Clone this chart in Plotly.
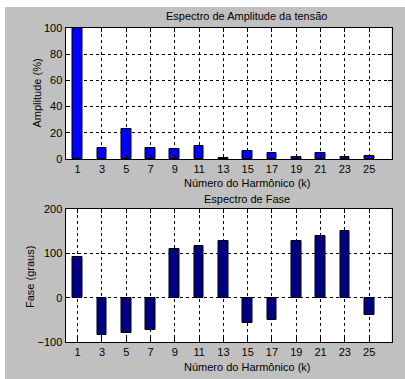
import plotly.graph_objects as go

harmonics = [1, 3, 5, 7, 9, 11, 13, 15, 17, 19, 21, 23, 25]
amplitude = [100, 8.4, 23.2, 8.4, 7.6, 10.2, 1.0, 6.4, 4.6, 1.5, 4.6, 1.5, 2.3]
phase = [92.5, -84, -79, -74, 110.5, 116, 128.6, -57, -50, 127, 140, 151, -39]
amp_ticks = [0, 20, 40, 60, 80, 100]
phase_ticks = [-100, 0, 100, 200]

W, H = 405, 379
FONT = "Liberation Sans, Arial, sans-serif"

def px_x(p):
    return p / W

def px_y(p):
    return 1 - p / H

fig = go.Figure()
fig.add_trace(go.Bar(x=harmonics, y=amplitude, width=0.8, marker=dict(color="#0000ff", line=dict(color="#000000", width=1)),
                     xaxis="x", yaxis="y"))
fig.add_trace(go.Bar(x=harmonics, y=phase, width=0.8, marker=dict(color="#000080", line=dict(color="#000000", width=1)),
                     xaxis="x2", yaxis="y2"))

axis_common = dict(
    showline=True, linecolor="#000000", linewidth=1, mirror="allticks",
    ticks="inside", ticklen=4, tickcolor="#000000",
    showgrid=True, gridcolor="#000000", gridwidth=1, griddash="3px,3px",
    zeroline=False, tickfont=dict(family=FONT, size=11, color="#000000"),
    automargin=False, fixedrange=True,
)

xdom = [px_x(65.5), px_x(391.5)]
fig.update_layout(
    width=W, height=H,
    margin=dict(l=0, r=0, t=0, b=0),
    paper_bgcolor="#c0c0c0", plot_bgcolor="#ffffff",
    showlegend=False, bargap=0,
    font=dict(family=FONT, size=11, color="#000000"),
    xaxis=dict(domain=xdom, range=[0, 26.84], tickvals=harmonics, anchor="y", **axis_common),
    yaxis=dict(domain=[px_y(159), px_y(28)], range=[0, 100], tickvals=amp_ticks, anchor="x", **axis_common),
    xaxis2=dict(domain=xdom, range=[0, 26.84], tickvals=harmonics, anchor="y2", **axis_common),
    yaxis2=dict(domain=[px_y(342), px_y(209)], range=[-100, 200], tickvals=phase_ticks, anchor="x2", **axis_common),
    shapes=[
        dict(type="rect", xref="paper", yref="paper", x0=0, x1=1, y0=px_y(7), y1=1,
             fillcolor="#ffffff", line=dict(width=0), layer="below"),
        dict(type="rect", xref="paper", yref="paper", x0=0, x1=px_x(5), y0=0, y1=1,
             fillcolor="#ffffff", line=dict(width=0), layer="below"),
    ],
    annotations=[
        dict(text="Espectro de Amplitude da tensão", x=px_x(247), y=px_y(16), xref="paper", yref="paper",
             showarrow=False, xanchor="center", yanchor="middle", font=dict(size=11)),
        dict(text="Número do Harmônico (k)", x=px_x(247.5), y=px_y(183), xref="paper", yref="paper",
             showarrow=False, xanchor="center", yanchor="middle", font=dict(size=11)),
        dict(text="Amplitude (%)", x=px_x(36), y=px_y(93.5), xref="paper", yref="paper", textangle=-90,
             showarrow=False, xanchor="center", yanchor="middle", font=dict(size=11)),
        dict(text="Espectro de Fase", x=px_x(247), y=px_y(199), xref="paper", yref="paper",
             showarrow=False, xanchor="center", yanchor="middle", font=dict(size=11)),
        dict(text="Número do Harmônico (k)", x=px_x(247.5), y=px_y(367), xref="paper", yref="paper",
             showarrow=False, xanchor="center", yanchor="middle", font=dict(size=11)),
        dict(text="Fase (graus)", x=px_x(30), y=px_y(277), xref="paper", yref="paper", textangle=-90,
             showarrow=False, xanchor="center", yanchor="middle", font=dict(size=11)),
    ],
)

fig.write_html("out.html", config=dict(displayModeBar=False))
